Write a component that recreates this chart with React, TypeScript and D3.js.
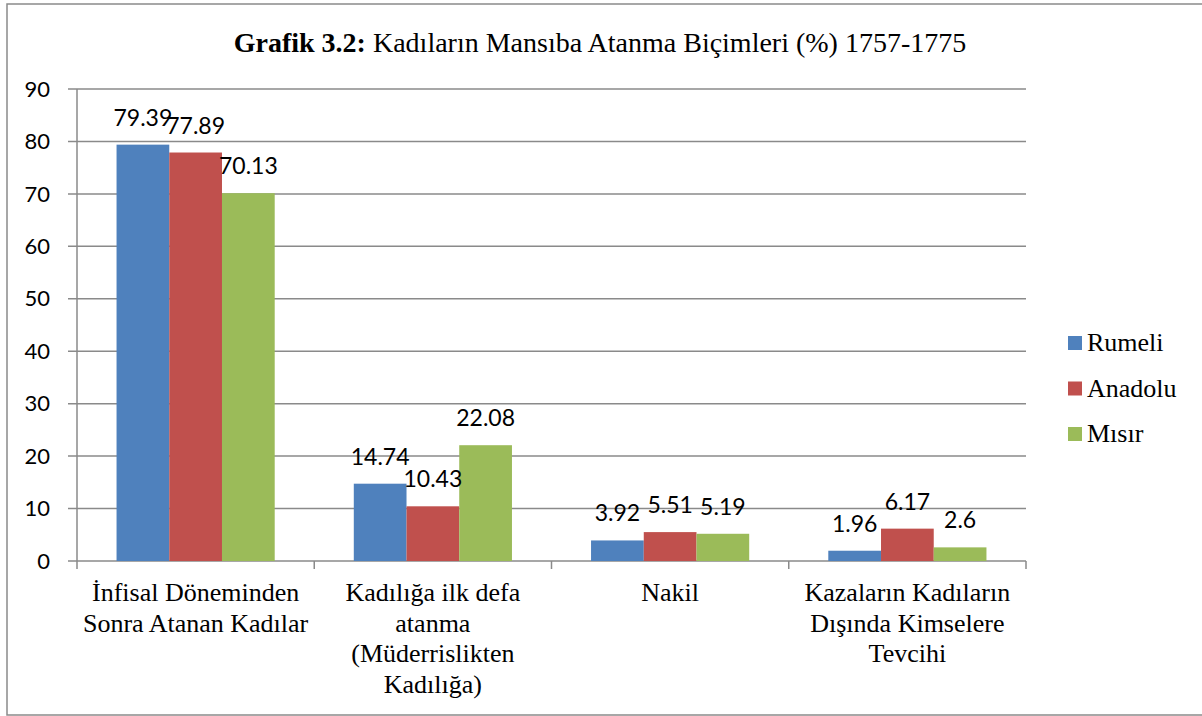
import { useMemo } from 'react';
import * as d3 from 'd3';

/* ═══ Data ═══ */
const categories = [
  'İnfisal Döneminden Sonra Atanan Kadılar',
  'Kadılığa ilk defa atanma (Müderrislikten Kadılığa)',
  'Nakil',
  'Kazaların Kadıların Dışında Kimselere Tevcihi',
];
const categoryLines = [
  ['İnfisal Döneminden', 'Sonra Atanan Kadılar'],
  ['Kadılığa ilk defa', 'atanma', '(Müderrislikten', 'Kadılığa)'],
  ['Nakil'],
  ['Kazaların Kadıların', 'Dışında Kimselere', 'Tevcihi'],
];
const seriesNames = ['Rumeli', 'Anadolu', 'Mısır'];
const rumeli = [79.39, 14.74, 3.92, 1.96];
const anadolu = [77.89, 10.43, 5.51, 6.17];
const misir = [70.13, 22.08, 5.19, 2.6];
const yTicks = [0, 10, 20, 30, 40, 50, 60, 70, 80, 90];
const colors = ['#4F81BD', '#C0504D', '#9BBB59'];

const W = 1202;
const H = 716;
const SERIF = '"Liberation Serif", "Times New Roman", serif';
const SANS = 'Lato, Carlito, Calibri, sans-serif';
const GRID = '#8a8a8a';

export default function App() {
  const values = [rumeli, anadolu, misir];

  const x = useMemo(() => d3.scaleBand<string>()
    .domain(categories).range([77, 1026])
    .paddingInner(1 / 3).paddingOuter(1 / 6), []);
  const xs = useMemo(() => d3.scaleBand<string>()
    .domain(seriesNames).range([0, x.bandwidth()]).padding(0), [x]);
  const y = useMemo(() => d3.scaleLinear().domain([0, 90]).range([561, 89]), []);

  const boundaries = categories.map(c => x(c)! + x.bandwidth() / 2 - x.step() / 2)
    .concat([x(categories[categories.length - 1])! + x.bandwidth() / 2 + x.step() / 2]);

  return (
    <div>
      <style>{'body{margin:0;}'}</style>
      <svg width={W} height={H} style={{ display: 'block', background: '#fff' }}>
        {/* frame */}
        <rect x={7} y={4} width={1210} height={711} fill="#fff" stroke={GRID} strokeWidth={1.5} />

        {/* title */}
        <text x={600} y={52} textAnchor="middle" fontFamily={SERIF} fontSize={28} fill="#000">
          <tspan fontWeight="bold">Grafik 3.2:</tspan>
          <tspan> Kadıların Mansıba Atanma Biçimleri (%) 1757-1775</tspan>
        </text>

        {/* grid + y axis */}
        {yTicks.map(t => (
          <g key={t}>
            <line x1={68} x2={1026} y1={y(t)} y2={y(t)} stroke={GRID} strokeWidth={1.5} />
            <text x={50} y={y(t)} dy="0.35em" textAnchor="end" fontFamily={SANS} fontSize={22} fill="#000">{t}</text>
          </g>
        ))}
        <line x1={77} x2={77} y1={y(90)} y2={y(0)} stroke={GRID} strokeWidth={1.5} />

        {/* x ticks */}
        {boundaries.map((b, i) => (
          <line key={i} x1={b} x2={b} y1={y(0)} y2={y(0) + 8} stroke={GRID} strokeWidth={1.5} />
        ))}

        {/* bars */}
        {categories.map((c, ci) => (
          <g key={c} transform={`translate(${x(c)},0)`}>
            {seriesNames.map((s, si) => {
              const v = values[si][ci];
              return (
                <rect key={s} x={xs(s)} y={y(v)} width={xs.bandwidth()} height={y(0) - y(v)}
                  fill={colors[si]} />
              );
            })}
          </g>
        ))}

        {/* data labels */}
        {categories.map((c, ci) => (
          <g key={c} transform={`translate(${x(c)},0)`}>
            {seriesNames.map((s, si) => {
              const v = values[si][ci];
              return (
                <text key={s} x={xs(s)! + xs.bandwidth() / 2} y={y(v) - 19} textAnchor="middle"
                  fontFamily={SANS} fontSize={23} fill="#000">{v}</text>
              );
            })}
          </g>
        ))}

        {/* category labels */}
        {categories.map((c, ci) => (
          <text key={c} x={x(c)! + x.bandwidth() / 2} y={601} textAnchor="middle"
            fontFamily={SERIF} fontSize={26} fill="#000">
            {categoryLines[ci].map((l, li) => (
              <tspan key={li} x={x(c)! + x.bandwidth() / 2} dy={li === 0 ? 0 : 30.5}>{l}</tspan>
            ))}
          </text>
        ))}

        {/* legend */}
        {seriesNames.map((s, si) => (
          <g key={s} transform={`translate(1068,${336 + si * 45.5})`}>
            <rect width={14} height={14} fill={colors[si]} />
            <text x={19} y={15} fontFamily={SERIF} fontSize={26} fill="#000">{s}</text>
          </g>
        ))}
      </svg>
    </div>
  );
}
